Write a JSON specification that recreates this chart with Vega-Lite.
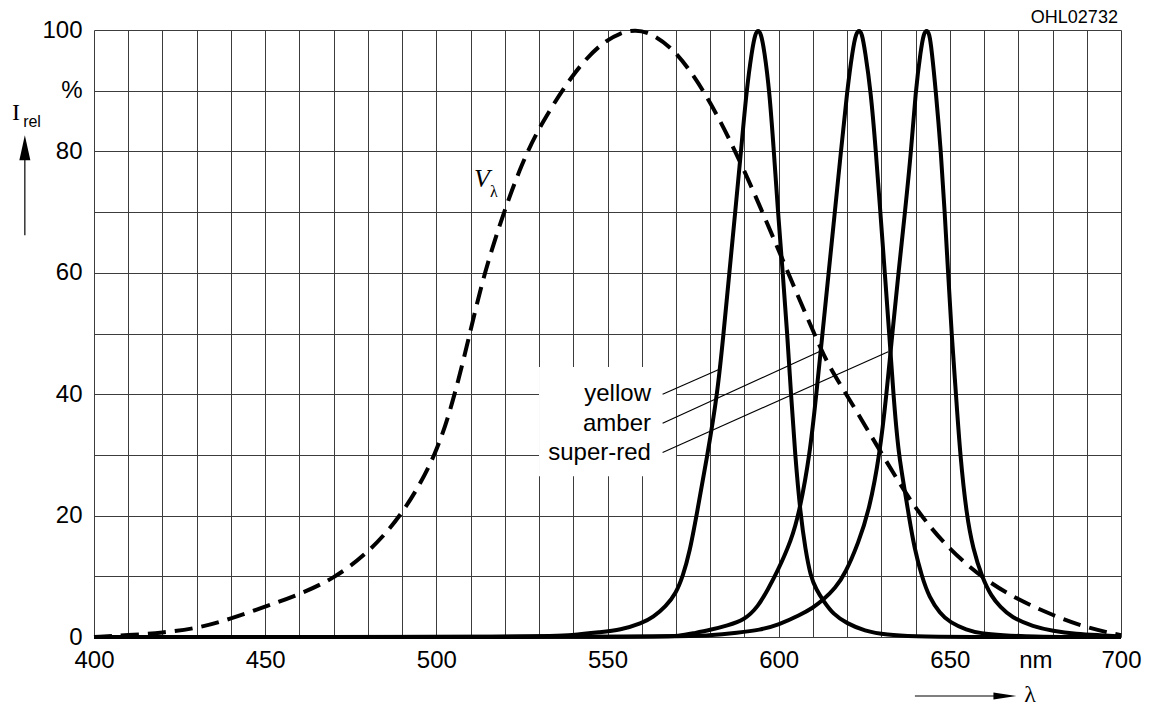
{
  "$schema": "https://vega.github.io/schema/vega-lite/v6.json",
  "width": 1027,
  "height": 607,
  "autosize": {"type": "none"},
  "padding": {"left": 94, "top": 30, "right": 28, "bottom": 69},
  "background": "white",
  "config": {"view": {"stroke": null}, "font": "Liberation Sans"},
  "datasets": {
    "spectra": [
      {"s":"V","wl":400,"rel":0},{"s":"V","wl":410,"rel":0.3},{"s":"V","wl":420,"rel":0.7},{"s":"V","wl":430,"rel":1.4},{"s":"V","wl":440,"rel":3.0},{"s":"V","wl":450,"rel":5.0},{"s":"V","wl":460,"rel":7.0},{"s":"V","wl":470,"rel":9.6},{"s":"V","wl":480,"rel":13.8},{"s":"V","wl":490,"rel":20},{"s":"V","wl":500,"rel":29.8},{"s":"V","wl":505.5,"rel":40},{"s":"V","wl":510,"rel":50.5},{"s":"V","wl":514,"rel":60},{"s":"V","wl":520,"rel":70.5},{"s":"V","wl":525,"rel":78},{"s":"V","wl":530,"rel":84},{"s":"V","wl":540,"rel":93},{"s":"V","wl":548,"rel":97.8},{"s":"V","wl":554,"rel":99.6},{"s":"V","wl":558,"rel":100},{"s":"V","wl":562,"rel":99.7},{"s":"V","wl":570,"rel":96.8},{"s":"V","wl":580,"rel":88.5},{"s":"V","wl":590,"rel":77},{"s":"V","wl":600,"rel":63.7},{"s":"V","wl":605,"rel":57},{"s":"V","wl":610,"rel":50.5},{"s":"V","wl":612,"rel":47.9},{"s":"V","wl":615,"rel":44.3},{"s":"V","wl":620,"rel":39.8},{"s":"V","wl":630,"rel":30.3},{"s":"V","wl":640,"rel":20.9},{"s":"V","wl":650,"rel":14.3},{"s":"V","wl":660,"rel":9.5},{"s":"V","wl":670,"rel":6.1},{"s":"V","wl":680,"rel":3.6},{"s":"V","wl":690,"rel":1.5},{"s":"V","wl":700,"rel":0.3},

      {"s":"yellow","wl":400,"rel":0},{"s":"yellow","wl":530,"rel":0},{"s":"yellow","wl":540,"rel":0.3},{"s":"yellow","wl":548,"rel":0.8},{"s":"yellow","wl":553.7,"rel":1.15},{"s":"yellow","wl":560,"rel":2.25},{"s":"yellow","wl":563.4,"rel":3.3},{"s":"yellow","wl":567,"rel":5.0},{"s":"yellow","wl":570,"rel":7.2},{"s":"yellow","wl":572,"rel":10},{"s":"yellow","wl":574,"rel":14},{"s":"yellow","wl":576,"rel":20},{"s":"yellow","wl":579.2,"rel":30},{"s":"yellow","wl":582.1,"rel":40},{"s":"yellow","wl":583.9,"rel":50},{"s":"yellow","wl":585.6,"rel":60},{"s":"yellow","wl":587.3,"rel":70},{"s":"yellow","wl":589,"rel":80},{"s":"yellow","wl":590.6,"rel":90},{"s":"yellow","wl":592.2,"rel":96.7},{"s":"yellow","wl":593.2,"rel":99.5},{"s":"yellow","wl":594,"rel":100},{"s":"yellow","wl":594.8,"rel":99.5},{"s":"yellow","wl":595.8,"rel":96.7},{"s":"yellow","wl":597.3,"rel":90},{"s":"yellow","wl":598.6,"rel":80},{"s":"yellow","wl":599.8,"rel":70},{"s":"yellow","wl":601.2,"rel":60},{"s":"yellow","wl":602.5,"rel":50},{"s":"yellow","wl":603.6,"rel":40},{"s":"yellow","wl":604.8,"rel":30},{"s":"yellow","wl":606.4,"rel":20},{"s":"yellow","wl":607.8,"rel":14.5},{"s":"yellow","wl":609.3,"rel":10},{"s":"yellow","wl":611,"rel":7.8},{"s":"yellow","wl":613,"rel":6.0},{"s":"yellow","wl":616,"rel":3.7},{"s":"yellow","wl":619.9,"rel":2.25},{"s":"yellow","wl":625,"rel":1.0},{"s":"yellow","wl":631.5,"rel":0.33},{"s":"yellow","wl":640,"rel":0.1},{"s":"yellow","wl":650,"rel":0},{"s":"yellow","wl":700,"rel":0},

      {"s":"amber","wl":400,"rel":0},{"s":"amber","wl":565,"rel":0},{"s":"amber","wl":571,"rel":0.15},{"s":"amber","wl":575,"rel":0.6},{"s":"amber","wl":580,"rel":1.15},{"s":"amber","wl":585,"rel":1.9},{"s":"amber","wl":590,"rel":2.8},{"s":"amber","wl":594,"rel":5},{"s":"amber","wl":597,"rel":8},{"s":"amber","wl":599.4,"rel":10.5},{"s":"amber","wl":603.8,"rel":16},{"s":"amber","wl":606.2,"rel":21},{"s":"amber","wl":609.1,"rel":30},{"s":"amber","wl":611,"rel":40},{"s":"amber","wl":612.8,"rel":50},{"s":"amber","wl":614.6,"rel":60},{"s":"amber","wl":616.4,"rel":70},{"s":"amber","wl":618.2,"rel":80},{"s":"amber","wl":620,"rel":90},{"s":"amber","wl":621.6,"rel":96.7},{"s":"amber","wl":622.6,"rel":99.5},{"s":"amber","wl":623.5,"rel":100},{"s":"amber","wl":624.3,"rel":99.5},{"s":"amber","wl":625.2,"rel":96.7},{"s":"amber","wl":626.9,"rel":90},{"s":"amber","wl":628.4,"rel":80},{"s":"amber","wl":629.7,"rel":70},{"s":"amber","wl":631,"rel":60},{"s":"amber","wl":632.3,"rel":50},{"s":"amber","wl":633.5,"rel":40},{"s":"amber","wl":635,"rel":30},{"s":"amber","wl":637.2,"rel":23},{"s":"amber","wl":638,"rel":20},{"s":"amber","wl":639.7,"rel":14.5},{"s":"amber","wl":641.8,"rel":10},{"s":"amber","wl":644,"rel":6.5},{"s":"amber","wl":647.1,"rel":3.9},{"s":"amber","wl":650,"rel":2.4},{"s":"amber","wl":654.9,"rel":1.15},{"s":"amber","wl":659,"rel":0.6},{"s":"amber","wl":665,"rel":0.3},{"s":"amber","wl":675,"rel":0.05},{"s":"amber","wl":685,"rel":0},{"s":"amber","wl":700,"rel":0},

      {"s":"super-red","wl":400,"rel":0},{"s":"super-red","wl":570,"rel":0},{"s":"super-red","wl":580,"rel":0.25},{"s":"super-red","wl":588,"rel":0.7},{"s":"super-red","wl":594.5,"rel":1.15},{"s":"super-red","wl":600,"rel":2.0},{"s":"super-red","wl":606.2,"rel":3.6},{"s":"super-red","wl":610,"rel":4.8},{"s":"super-red","wl":613,"rel":6.1},{"s":"super-red","wl":616.5,"rel":8},{"s":"super-red","wl":619.5,"rel":10.5},{"s":"super-red","wl":623.3,"rel":15.5},{"s":"super-red","wl":626.5,"rel":21},{"s":"super-red","wl":629.5,"rel":30},{"s":"super-red","wl":631.5,"rel":40},{"s":"super-red","wl":633.2,"rel":50},{"s":"super-red","wl":635,"rel":60},{"s":"super-red","wl":636.9,"rel":70},{"s":"super-red","wl":638.7,"rel":80},{"s":"super-red","wl":640,"rel":90},{"s":"super-red","wl":641.5,"rel":96.7},{"s":"super-red","wl":642.4,"rel":99.5},{"s":"super-red","wl":643.2,"rel":100},{"s":"super-red","wl":644,"rel":99.5},{"s":"super-red","wl":644.7,"rel":96.7},{"s":"super-red","wl":645.9,"rel":90},{"s":"super-red","wl":647.4,"rel":80},{"s":"super-red","wl":648.5,"rel":70},{"s":"super-red","wl":649.5,"rel":60},{"s":"super-red","wl":650.5,"rel":50},{"s":"super-red","wl":651.8,"rel":40},{"s":"super-red","wl":653,"rel":30},{"s":"super-red","wl":654.9,"rel":20},{"s":"super-red","wl":656.8,"rel":14.5},{"s":"super-red","wl":659.3,"rel":10},{"s":"super-red","wl":662.2,"rel":6.6},{"s":"super-red","wl":664.7,"rel":5},{"s":"super-red","wl":668,"rel":3.2},{"s":"super-red","wl":674.4,"rel":1.7},{"s":"super-red","wl":680,"rel":1.0},{"s":"super-red","wl":687,"rel":0.5},{"s":"super-red","wl":694,"rel":0.3},{"s":"super-red","wl":700,"rel":0.1}
    ]
  },
  "encoding": {
    "x": {
      "field": "wl", "type": "quantitative",
      "scale": {"domain": [400, 700], "nice": false, "zero": false},
      "axis": {
        "values": [400,410,420,430,440,450,460,470,480,490,500,510,520,530,540,550,560,570,580,590,600,610,620,630,640,650,660,670,680,690,700,675],
        "labelExpr": "datum.value == 675 ? 'nm' : (datum.value % 50 == 0 ? datum.label : '')",
        "grid": true, "gridColor": "#3c3c3c", "gridWidth": 1,
        "gridOpacity": {"condition": {"test": "datum.value == 675", "value": 0}, "value": 1},
        "ticks": false, "domain": false,
        "labelFont": "Liberation Sans", "labelFontSize": 24, "labelColor": "black",
        "labelPadding": 11, "labelOverlap": false, "labelBound": false, "labelFlush": false,
        "title": null
      }
    },
    "y": {
      "field": "rel", "type": "quantitative",
      "scale": {"domain": [0, 100], "nice": false, "zero": false},
      "axis": {
        "values": [0,10,20,30,40,50,60,70,80,90,100],
        "labelExpr": "datum.value == 90 ? '%' : (datum.value % 20 == 0 ? datum.label : '')",
        "grid": true, "gridColor": "#3c3c3c", "gridWidth": 1,
        "ticks": false, "domain": false,
        "labelFont": "Liberation Sans", "labelFontSize": 24, "labelColor": "black",
        "labelPadding": 12, "labelOverlap": false, "labelBound": false, "labelFlush": false,
        "title": null
      }
    }
  },
  "layer": [
    {
      "data": {"values": [{"wl": 530, "wl2": 570, "rel": 44.5, "rel2": 26.5}]},
      "mark": {"type": "rect", "fill": "white", "stroke": null},
      "encoding": {"x2": {"field": "wl2"}, "y2": {"field": "rel2"}}
    },
    {
      "data": {"values": [
        {"wl": 566.1, "rel": 40.0, "wl2": 582.7, "rel2": 44.1},
        {"wl": 566.1, "rel": 35.2, "wl2": 612.6, "rel2": 47.2},
        {"wl": 566.1, "rel": 30.4, "wl2": 632.0, "rel2": 47.0}
      ]},
      "mark": {"type": "rule", "color": "black", "strokeWidth": 1.1},
      "encoding": {"x2": {"field": "wl2"}, "y2": {"field": "rel2"}}
    },
    {
      "data": {"name": "spectra"},
      "transform": [{"filter": "datum.s == 'V'"}],
      "mark": {"type": "line", "color": "black", "strokeWidth": 4, "strokeDash": [18, 9], "strokeCap": "butt", "interpolate": "basis"},
      "encoding": {"order": {"field": "wl", "type": "quantitative"}}
    },
    {
      "data": {"name": "spectra"},
      "transform": [{"filter": "datum.s != 'V'"}],
      "mark": {"type": "line", "color": "black", "strokeWidth": 4, "strokeJoin": "round", "interpolate": "basis"},
      "encoding": {"detail": {"field": "s", "type": "nominal"}, "order": {"field": "wl", "type": "quantitative"}}
    },
    {
      "data": {"values": [
        {"wl": 562.7, "rel": 38.8, "label": "yellow"},
        {"wl": 562.7, "rel": 33.9, "label": "amber"},
        {"wl": 562.7, "rel": 29.2, "label": "super-red"}
      ]},
      "mark": {"type": "text", "font": "Liberation Sans", "fontSize": 24, "align": "right", "baseline": "alphabetic", "color": "black"},
      "encoding": {"text": {"field": "label"}}
    },
    {
      "data": {"values": [{"wl": 513.3, "rel": 74.2, "label": "V"}]},
      "mark": {"type": "text", "font": "Liberation Serif", "fontStyle": "italic", "fontSize": 26, "align": "center", "baseline": "alphabetic", "color": "black"},
      "encoding": {"text": {"field": "label"}}
    },
    {
      "data": {"values": [{"wl": 516.8, "rel": 72.5, "label": "λ"}]},
      "mark": {"type": "text", "font": "Liberation Serif", "fontSize": 16, "align": "center", "baseline": "alphabetic", "color": "black"},
      "encoding": {"text": {"field": "label"}}
    },
    {
      "data": {"values": [{"wl": 377.2, "rel": 85.2, "label": "I"}, {"wl": 673.4, "rel": -10.7, "label": "λ"}]},
      "mark": {"type": "text", "font": "Liberation Serif", "fontSize": 24, "align": "center", "baseline": "alphabetic", "color": "black"},
      "encoding": {"text": {"field": "label"}}
    },
    {
      "data": {"values": [{"wl": 379.3, "rel": 84.1, "label": "rel"}]},
      "mark": {"type": "text", "font": "Liberation Sans", "fontSize": 16, "align": "left", "baseline": "alphabetic", "color": "black"},
      "encoding": {"text": {"field": "label"}}
    },
    {
      "data": {"values": [{"wl": 699.1, "rel": 101.15, "label": "OHL02732"}]},
      "mark": {"type": "text", "font": "Liberation Sans", "fontSize": 18, "align": "right", "baseline": "alphabetic", "color": "black"},
      "encoding": {"text": {"field": "label"}}
    },
    {
      "data": {"values": [
        {"wl": 379.8, "rel": 66.2, "wl2": 379.8, "rel2": 80.2},
        {"wl": 639.8, "rel": -9.72, "wl2": 664.5, "rel2": -9.72}
      ]},
      "mark": {"type": "rule", "color": "black", "strokeWidth": 1.2},
      "encoding": {"x2": {"field": "wl2"}, "y2": {"field": "rel2"}}
    },
    {
      "data": {"values": [{"wl": 379.8, "rel": 80.6}]},
      "mark": {"type": "point", "shape": "M0,-1L0.44,1L-0.44,1Z", "size": 625, "filled": true, "color": "black", "opacity": 1, "strokeWidth": 0}
    },
    {
      "data": {"values": [{"wl": 666.1, "rel": -9.72}]},
      "mark": {"type": "point", "shape": "M1,0L-1,-0.3L-1,0.3Z", "size": 529, "filled": true, "color": "black", "opacity": 1, "strokeWidth": 0}
    }
  ]
}
